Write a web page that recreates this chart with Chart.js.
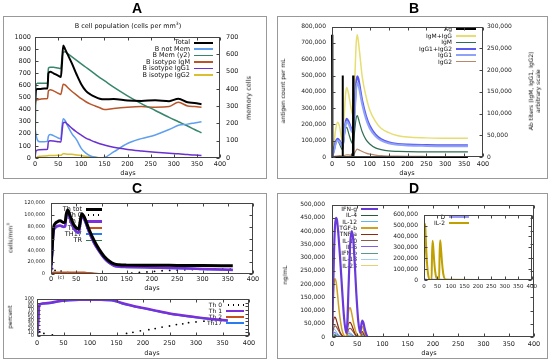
<!DOCTYPE html>
<html>
<head>
<meta charset="utf-8">
<script src="https://cdn.jsdelivr.net/npm/chart.js@4.4.0/dist/chart.umd.min.js"></script>
<style>
  body { margin: 0; width: 550px; height: 360px; background: #fff; position: relative; overflow: hidden; font-family: "DejaVu Sans", sans-serif; color: #111; }
  .frame { position: absolute; border: 1px solid #999; box-sizing: border-box; }
  .txt { position: absolute; white-space: nowrap; line-height: 1; color: #111; will-change: transform; }
  canvas { position: absolute; z-index: 2; }
</style>
</head>
<body>
<script>
// ---- panel A : B cell population ----
const aDays = [0, 2, 5, 10, 20, 27, 29, 33, 40, 50, 56, 58, 61, 65, 70, 80, 90, 100, 110, 120, 130, 140, 150, 170, 200, 230, 260, 290, 310, 330, 345, 360];
const aTotal = [430, 560, 570, 570, 575, 575, 700, 712, 700, 680, 670, 760, 930, 900, 860, 780, 690, 610, 555, 525, 505, 490, 485, 488, 475, 472, 478, 470, 490, 460, 455, 445];
const aNotMem = [250, 200, 150, 135, 135, 140, 180, 195, 185, 165, 160, 250, 325, 310, 270, 200, 150, 80, 40, 17, 8, 3, 5, 50, 120, 160, 190, 235, 270, 280, 290, 300];
const aMem = [0, 420, 432, 432, 432, 432, 520, 525, 525, 520, 518, 570, 612, 615, 605, 585, 565, 545, 525, 505, 485, 465, 447, 410, 360, 315, 275, 235, 210, 185, 165, 146];
const aIgM = [440, 480, 482, 485, 490, 492, 555, 565, 555, 535, 525, 560, 610, 605, 585, 550, 520, 490, 465, 445, 430, 415, 400, 410, 420, 425, 420, 425, 460, 430, 425, 420];
const aIgG1 = [0, 55, 65, 68, 70, 72, 135, 142, 140, 135, 132, 200, 290, 295, 280, 245, 215, 190, 165, 148, 132, 118, 107, 88, 70, 58, 48, 40, 35, 28, 24, 20];
const aIgG2 = [0, 2, 8, 14, 17, 18, 20, 20, 21, 22, 22, 28, 35, 34, 32, 30, 25, 20, 15, 10, 6, 3, 1, 0, 0, 0, 0, 0, 0, 0, 0, 0];
const aNames = ['Total', 'B not Mem', 'B Mem (y2)', 'B isotype IgM', 'B isotype IgG1', 'B isotype IgG2'];

// ---- panel B : antigen and antibodies ----
const bAgDays = [0, 1, 27.5, 28, 29, 55.5, 56, 57, 360];
const bAg = [750000, 0, 0, 500000, 0, 0, 500000, 0, 0];
const bDays = [0, 5, 10, 15, 20, 25, 28, 32, 36, 39, 44, 50, 56, 60, 64, 67, 70, 75, 80, 90, 100, 115, 130, 150, 175, 200, 250, 300, 360];
const bIgMIgG = [0, 30000, 65000, 80000, 70000, 45000, 35000, 90000, 145000, 160000, 145000, 115000, 95000, 170000, 260000, 281000, 265000, 225000, 185000, 140000, 108000, 82000, 66000, 56000, 49000, 46000, 44000, 43000, 43000];
const bIgM = [0, 20000, 36000, 38000, 30000, 20000, 16000, 45000, 66000, 68000, 55000, 38000, 30000, 60000, 90000, 95000, 88000, 72000, 58000, 40000, 30000, 21000, 17000, 14000, 13000, 12500, 12000, 12000, 12000];
const bIgG = [0, 15000, 35000, 42000, 38000, 30000, 26000, 55000, 80000, 88000, 82000, 68000, 60000, 110000, 170000, 186000, 180000, 155000, 130000, 95000, 72000, 52000, 41000, 34000, 30000, 28500, 27500, 27000, 27000];
const bIgG1 = [0, 13000, 31000, 38000, 35000, 27000, 23000, 49000, 73000, 81000, 76000, 63000, 55000, 100000, 156000, 170000, 166000, 144000, 121000, 88000, 66000, 48000, 38000, 31500, 28000, 26500, 25500, 25000, 25000];
const bIgG2 = [0, 1000, 2000, 2500, 3000, 2500, 2000, 3000, 4500, 5000, 4800, 4200, 4000, 9000, 16000, 18000, 17000, 15000, 12500, 9000, 6500, 4500, 3000, 2200, 1800, 1500, 1200, 1000, 1000];
const bNames = ['Ag', 'IgM+IgG', 'IgM', 'IgG1+IgG2', 'IgG1', 'IgG2'];

// ---- panel C (top) : Th cells per mm3 ----
const cDays = [0, 2, 5, 8, 12, 18, 25, 28, 30, 33, 38, 44, 50, 55, 58, 61, 66, 75, 85, 95, 105, 115, 125, 135, 150, 200, 250, 300, 360];
const cTot = [15000, 40000, 78000, 85000, 88000, 90000, 87000, 88000, 100000, 108000, 98000, 85000, 78000, 76000, 90000, 102000, 96000, 76000, 57000, 42000, 30000, 22000, 17000, 15500, 15000, 14800, 14500, 14200, 14000];
const cTh1 = [5000, 30000, 72000, 78000, 81000, 82000, 80000, 81000, 95000, 105000, 92000, 79000, 72000, 70000, 85000, 98000, 92000, 72000, 53000, 39000, 27000, 19000, 14000, 12500, 12000, 11000, 10000, 8500, 7000];
const cTh17 = [5000, 29000, 71000, 77000, 80000, 81000, 79000, 80000, 94000, 104000, 91000, 78000, 71000, 69000, 84000, 97000, 91000, 71000, 52000, 38000, 26500, 18500, 13500, 12000, 11500, 10500, 9500, 8000, 6500];
const cTh2 = [0, 2000, 3000, 3000, 3000, 3000, 3000, 3000, 3000, 3200, 3000, 3000, 3000, 2800, 2800, 3000, 2800, 2000, 1200, 600, 300, 200, 100, 0, 0, 0, 0, 0, 0];
const cTR = [0, 500, 800, 900, 900, 900, 900, 900, 1000, 1000, 1000, 900, 900, 900, 1000, 1000, 1000, 800, 600, 400, 300, 200, 200, 200, 200, 200, 200, 200, 200];
const cTh0Days = [3, 8, 20, 160, 175, 190, 205, 220, 235, 250, 265, 280, 295, 310, 325, 340, 355];
const cTh0 = [9000, 6000, 5000, 1500, 2500, 3500, 4500, 5500, 6000, 6500, 7000, 7500, 8000, 8000, 8500, 8500, 8000];
const cNames = ['Th tot', 'Th 0', 'Th 1', 'Th 2', 'TH17', 'TR'];

// ---- panel C (bottom) : Th percent ----
const pDays = [0, 2, 4, 6, 10, 20, 30, 40, 60, 80, 100, 120, 140, 150, 160, 180, 200, 220, 250, 280, 300, 330, 360];
const pTh1 = [0, 30, 82, 86, 88, 89, 91, 94, 97, 98, 98, 98, 97, 94, 89, 82, 76, 70, 61, 55, 51, 46, 42];
const pTh17 = [0, 29, 81, 85, 87, 88, 90, 93, 96, 97, 97, 97, 96, 93, 88, 81, 75, 69, 60, 54, 50, 45, 41];
const pTh2 = [0, 1, 1, 1, 1, 1, 1, 1, 1, 1, 1, 1, 1, 1, 1, 1, 1, 1, 1, 1, 1, 1, 1];
const pTh0Days = [5, 13, 29, 169, 181, 195, 211, 223, 236, 250, 263, 275, 286, 300, 315, 330, 345];
const pTh0 = [12, 7, 3, 7, 10, 14, 17, 20, 24, 27, 31, 33, 36, 38, 40, 43, 46];
const pNames = ['Th 0', 'Th 1', 'Th 2', 'Th17'];

// ---- panel D : cytokines ----
const dDays = [0, 2, 4, 6, 8, 10, 13, 16, 20, 24, 28, 30, 33, 36, 39, 42, 45, 48, 52, 56, 58, 60, 62, 65, 68, 72, 360];
const dIFNg = [0, 150000, 320000, 420000, 450000, 440000, 380000, 300000, 180000, 70000, 15000, 40000, 200000, 350000, 400000, 370000, 280000, 170000, 60000, 15000, 45000, 62000, 55000, 30000, 10000, 0, 0];
const dIL4 = [0, 2000, 4000, 5000, 5000, 4000, 3000, 2000, 800, 200, 0, 1500, 3000, 3500, 3000, 2000, 1000, 400, 100, 0, 1000, 1500, 1200, 600, 200, 0, 0];
const dIL12 = [0, 22000, 30000, 28000, 22000, 16000, 9000, 4000, 1000, 0, 0, 12000, 20000, 17000, 11000, 6000, 2500, 800, 0, 0, 6000, 8000, 5000, 2000, 500, 0, 0];
const dTGFb = [0, 120000, 200000, 220000, 210000, 180000, 120000, 70000, 25000, 5000, 0, 30000, 100000, 110000, 90000, 60000, 35000, 15000, 5000, 0, 35000, 40000, 30000, 12000, 3000, 0, 0];
const dTNFa = [0, 50000, 72000, 75000, 68000, 55000, 35000, 18000, 6000, 1000, 0, 25000, 52000, 55000, 45000, 30000, 15000, 6000, 1000, 0, 15000, 20000, 15000, 6000, 1000, 0, 0];
const dIL10 = [0, 25000, 38000, 42000, 40000, 34000, 24000, 14000, 5000, 1000, 0, 12000, 30000, 33000, 28000, 20000, 11000, 5000, 1000, 0, 8000, 12000, 10000, 5000, 1000, 0, 0];
const dIL6 = [0, 12000, 18000, 17000, 14000, 10000, 6000, 3000, 800, 0, 0, 8000, 14000, 12000, 8000, 4000, 1500, 500, 0, 0, 4000, 6000, 4000, 1500, 300, 0, 0];
const dIFNb = [0, 6000, 9000, 10000, 9000, 7000, 4500, 2500, 800, 200, 0, 4000, 7000, 8000, 6000, 4000, 2000, 800, 200, 0, 2500, 3500, 2500, 1000, 300, 0, 0];
const dIL18 = [0, 10000, 15000, 14000, 11000, 8000, 4500, 2000, 500, 0, 0, 6000, 10000, 9000, 6000, 3000, 1200, 400, 0, 0, 3000, 4500, 3000, 1200, 300, 0, 0];
const dIL23 = [0, 5000, 9000, 10000, 9000, 7000, 4000, 2000, 600, 100, 0, 3000, 6000, 6000, 4500, 2800, 1300, 500, 100, 0, 2000, 3000, 2200, 900, 200, 0, 0];
const dNames = ['IFN-g', 'IL-4', 'IL-12', 'TGF-b', 'TNF-a', 'IL-10', 'IL-6', 'IFN-b', 'IL-18', 'IL-23'];

// inset of D
const iDays = [0, 2, 4, 6, 9, 12, 16, 20, 28, 30, 32, 35, 38, 42, 48, 56, 58, 60, 63, 67, 72, 80, 360];
const iIL2 = [0, 400000, 515000, 420000, 250000, 130000, 40000, 5000, 0, 250000, 360000, 280000, 170000, 70000, 10000, 0, 250000, 365000, 290000, 160000, 50000, 5000, 0];
const iD = [0, 3000, 5000, 4000, 2000, 1000, 500, 0, 0, 3000, 4000, 3000, 1500, 500, 0, 0, 3000, 4000, 3000, 1500, 500, 0, 0];
const iNames = ['D', 'IL-2'];

const FONT = '"DejaVu Sans", sans-serif';
Chart.defaults.font.family = FONT;
Chart.defaults.color = '#222';

const fmtComma = v => v.toLocaleString('en-US');
const fmtPlain = v => String(v);

// gnuplot-like box with inward ticks
const framePlugin = {
  id: 'frame',
  afterDatasetsDraw(c) {
    const ctx = c.ctx, a = c.chartArea;
    const L = Math.round(a.left) + 0.5, R = Math.round(a.right) - 0.5;
    const T = Math.round(a.top) + 0.5, B = Math.round(a.bottom) - 0.5;
    ctx.save();
    ctx.strokeStyle = '#444';
    ctx.lineWidth = 1;
    ctx.strokeRect(L, T, R - L, B - T);
    ctx.beginPath();
    const sx = c.scales.x;
    sx.ticks.forEach(t => {
      const p = Math.round(sx.getPixelForValue(t.value)) + 0.5;
      ctx.moveTo(p, B); ctx.lineTo(p, B - 3);
      ctx.moveTo(p, T); ctx.lineTo(p, T + 3);
    });
    const sy = c.scales.y;
    sy.ticks.forEach(t => {
      const p = Math.round(sy.getPixelForValue(t.value)) + 0.5;
      ctx.moveTo(L, p); ctx.lineTo(L + 3, p);
      if (!c.scales.y2) { ctx.moveTo(R, p); ctx.lineTo(R - 3, p); }
    });
    if (c.scales.y2) {
      const s2 = c.scales.y2;
      s2.ticks.forEach(t => {
        const p = Math.round(s2.getPixelForValue(t.value)) + 0.5;
        ctx.moveTo(R, p); ctx.lineTo(R - 3, p);
      });
    }
    ctx.stroke();
    ctx.restore();
  }
};

function pts(xs, ys) {
  return xs.map((x, i) => ({ x: x, y: ys[i] }));
}
function series(xs, ys, color, width, axis) {
  return { data: pts(xs, ys), borderColor: color, borderWidth: width, pointRadius: 0,
    cubicInterpolationMode: 'monotone', fill: false, yAxisID: axis || 'y' };
}
function dots(xs, ys, color) {
  return { data: pts(xs, ys), showLine: false, pointRadius: 0.9, pointBackgroundColor: color,
    pointBorderWidth: 0, yAxisID: 'y' };
}

// box = canvas [left, top, width, height]; area = plot [left, top, right, bottom], page px
function makeChart(box, area, o) {
  const cv = document.createElement('canvas');
  cv.width = box[2];
  cv.height = box[3];
  cv.style.left = box[0] + 'px';
  cv.style.top = box[1] + 'px';
  document.body.appendChild(cv);
  const leftW = area[0] - box[0];
  const rightW = box[0] + box[2] - area[2];
  const topP = area[1] - box[1];
  const botH = box[1] + box[3] - area[3];
  const noGrid = { display: false, drawTicks: false };
  const scales = {
    x: { type: 'linear', min: 0, max: 400, afterFit: s => { s.height = botH; },
      ticks: { stepSize: 50, autoSkip: false, maxRotation: 0, font: { size: o.xFont }, padding: o.xPad },
      grid: noGrid, border: { display: false } },
    y: { type: 'linear', position: 'left', min: 0, max: o.yMax, afterFit: s => { s.width = leftW; },
      ticks: { stepSize: o.yStep, autoSkip: false, font: { size: o.yFont }, padding: o.yPad, callback: o.fmt || fmtComma },
      grid: noGrid, border: { display: false } }
  };
  if (o.y2Max) {
    scales.y2 = { type: 'linear', position: 'right', min: 0, max: o.y2Max, afterFit: s => { s.width = rightW; },
      ticks: { stepSize: o.y2Step, autoSkip: false, font: { size: o.yFont }, padding: o.y2Pad, callback: o.fmt || fmtComma },
      grid: noGrid, border: { display: false } };
  }
  return new Chart(cv, {
    type: 'line',
    data: { datasets: o.datasets },
    options: {
      responsive: false,
      animation: false,
      layout: { padding: { top: topP, left: 0, bottom: 0, right: o.y2Max ? 0 : rightW } },
      plugins: { legend: { display: false }, tooltip: { enabled: false } },
      scales: scales
    },
    plugins: [framePlugin]
  });
}

function text(str, cx, cy, size, extra) {
  const d = document.createElement('div');
  d.className = 'txt';
  d.textContent = str;
  d.style.fontSize = size + 'px';
  d.style.left = cx + 'px';
  d.style.top = cy + 'px';
  d.style.transform = 'translate(-50%,-50%)' + (extra && extra.rot ? ' rotate(' + extra.rot + 'deg)' : '');
  if (extra && extra.bold) { d.style.fontWeight = 'bold'; d.style.fontFamily = '"Liberation Sans", Arial, sans-serif'; d.style.color = '#000'; }
  if (extra && extra.html) d.innerHTML = str;
  document.body.appendChild(d);
  return d;
}

// key: text right-aligned, then a line sample (gnuplot style)
function legend(names, styles, xRight, y0, dy, lineLen, size) {
  names.forEach((n, i) => {
    const y = y0 + i * dy;
    const t = document.createElement('div');
    t.className = 'txt';
    t.textContent = n;
    t.style.fontSize = size + 'px';
    t.style.width = '120px';
    t.style.textAlign = 'right';
    t.style.left = (xRight - 120) + 'px';
    t.style.top = (y - size / 2) + 'px';
    document.body.appendChild(t);
    const s = styles[i];
    const l = document.createElement('div');
    l.style.position = 'absolute';
    l.style.left = (xRight + 4) + 'px';
    l.style.width = lineLen + 'px';
    if (s.dots) {
      l.style.top = (y - 1) + 'px';
      l.style.height = '2px';
      l.style.background = 'radial-gradient(circle, ' + s.color + ' 0.8px, transparent 1.1px) 0 0 / 5px 2px repeat-x';
    } else {
      l.style.top = (y - s.w / 2) + 'px';
      l.style.height = s.w + 'px';
      l.style.background = s.color;
    }
    document.body.appendChild(l);
  });
}

function panelFrame(l, t, r, b) {
  const d = document.createElement('div');
  d.className = 'frame';
  d.style.left = l + 'px'; d.style.top = t + 'px';
  d.style.width = (r - l) + 'px'; d.style.height = (b - t) + 'px';
  document.body.appendChild(d);
}

// ---------- frames & letters ----------
panelFrame(3, 16, 267, 179);
panelFrame(277, 16, 548, 179);
panelFrame(3, 193, 267, 359);
panelFrame(277, 193, 548, 359);
text('A', 136.5, 7.5, 14, { bold: true });
text('B', 414, 7.5, 14, { bold: true });
text('C', 137, 188, 14, { bold: true });
text('D', 414, 188, 14, { bold: true });

// ---------- panel A ----------
const aCol = ['#000000', '#5f9ff0', '#35866a', '#b8552a', '#6a30d0', '#d8c030'];
const aW = [2, 1.5, 1.5, 1.5, 1.5, 1.5];
legend(aNames, aCol.map((c, i) => ({ color: c, w: aW[i] })), 190, 42.7, 6.5, 19, 6.5);
makeChart([4, 17, 262, 161], [35, 37, 220, 158], {
  xFont: 6.5, xPad: 2, yFont: 6.5, yPad: 4, y2Pad: 6,
  yMax: 1000, yStep: 100, y2Max: 700, y2Step: 100, fmt: fmtPlain,
  datasets: [
    series(aDays, aTotal, aCol[0], aW[0]),
    series(aDays, aIgG1, aCol[4], aW[4]),
    series(aDays, aNotMem, aCol[1], aW[1]),
    series(aDays, aMem, aCol[2], aW[2], 'y2'),
    series(aDays, aIgM, aCol[3], aW[3]),
    series(aDays, aIgG2, aCol[5], aW[5])
  ]
});
text('B cell population (cells per mm<sup style="font-size:4.5px">3</sup>)', 128, 26, 6.5, { html: true });
text('days', 128, 173, 6.5);
text('memory cells', 249, 98, 6.5, { rot: -90 });

// ---------- panel B ----------
const bCol = ['#000000', '#e6de72', '#2f6e52', '#5a5af0', '#8fa2f8', '#b8886a'];
const bW = [2, 1.5, 1.2, 2, 2, 1.2];
legend(bNames, bCol.map((c, i) => ({ color: c, w: bW[i] })), 451.5, 29.3, 6.5, 20, 6);
const agSet = series(bAgDays, bAg, bCol[0], bW[0]);
agSet.cubicInterpolationMode = 'default';
agSet.tension = 0;
agSet.clip = false;
makeChart([278, 17, 269, 161], [332, 25, 483, 157], {
  xFont: 6.5, xPad: 3, yFont: 6, yPad: 6, y2Pad: 4,
  yMax: 800000, yStep: 100000, y2Max: 300000, y2Step: 50000,
  datasets: [
    agSet,
    series(bDays, bIgG1, bCol[4], bW[4], 'y2'),
    series(bDays, bIgG, bCol[3], bW[3], 'y2'),
    series(bDays, bIgM, bCol[2], bW[2], 'y2'),
    series(bDays, bIgMIgG, bCol[1], bW[1], 'y2'),
    series(bDays, bIgG2, bCol[5], bW[5], 'y2')
  ]
});
text('antigen count per mL', 283, 91, 6, { rot: -90 });
text('Ab titers (IgM, IgG1, IgG2)', 530.5, 91, 6, { rot: -90 });
text('arbitrary scale', 538, 91, 6, { rot: -90 });
text('days', 407, 173, 6.5);

// ---------- panel C top ----------
const cCol = ['#000000', '#000000', '#7a2fd8', '#c8501a', '#2a7af0', '#2f7a4a'];
const cW = [3, 1, 2.5, 1.5, 2, 1.5];
legend(cNames, cCol.map((c, i) => ({ color: c, w: cW[i], dots: i === 1 })), 82, 209, 6.3, 16, 6.5);
makeChart([4, 194, 262, 98], [51, 203, 253, 274], {
  xFont: 6.5, xPad: 1.5, yFont: 5, yPad: 6,
  yMax: 120000, yStep: 20000,
  datasets: [
    series(cDays, cTot, cCol[0], cW[0]),
    series(cDays, cTh1, cCol[2], cW[2]),
    series(cDays, cTh17, cCol[4], cW[4]),
    series(cDays, cTh2, cCol[3], cW[3]),
    series(cDays, cTR, cCol[5], cW[5]),
    dots(cTh0Days, cTh0, '#000')
  ]
});
text('cells/mm<sup style="font-size:4px">3</sup>', 10, 238, 6, { rot: -90, html: true });
text('(c)', 61, 277, 5);
text('days', 152, 288, 6.5);

// ---------- panel C bottom ----------
const pCol = ['#000000', '#7a2fd8', '#c8501a', '#2a7af0'];
const pW = [1, 2.5, 1.5, 2];
legend(pNames, pCol.map((c, i) => ({ color: c, w: pW[i], dots: i === 0 })), 221.5, 305, 6.1, 18, 6);
makeChart([4, 293, 262, 64], [37, 299, 249, 336], {
  xFont: 6.5, xPad: 3, yFont: 5, yPad: 3,
  yMax: 100, yStep: 10, fmt: fmtPlain,
  datasets: [
    series(pDays, pTh1, pCol[1], pW[1]),
    series(pDays, pTh17, pCol[3], pW[3]),
    series(pDays, pTh2, pCol[2], pW[2]),
    dots(pTh0Days, pTh0, '#000')
  ]
});
text('percent', 10, 317, 6, { rot: -90 });
text('days', 152, 353, 6.5);

// ---------- panel D ----------
const dCol = ['#6a3ad8', '#2a5a3a', '#60b8e8', '#d0a020', '#8a2a10', '#8a5a4a', '#8060e0', '#5a9a8a', '#a0d0f0', '#e8d070'];
const dW = [2.2, 1.2, 1, 1.5, 1.2, 1.2, 1, 1, 1, 1];
legend(dNames, dCol.map((c, i) => ({ color: c, w: dW[i] })), 357, 209, 6.3, 17, 6);
makeChart([278, 194, 269, 163], [332, 203, 534, 337], {
  xFont: 6.5, xPad: 3, yFont: 6, yPad: 7,
  yMax: 500000, yStep: 50000,
  datasets: [
    series(dDays, dIFNg, dCol[0], dW[0]),
    series(dDays, dTGFb, dCol[3], dW[3]),
    series(dDays, dTNFa, dCol[4], dW[4]),
    series(dDays, dIL10, dCol[5], dW[5]),
    series(dDays, dIL12, dCol[2], dW[2]),
    series(dDays, dIL6, dCol[6], dW[6]),
    series(dDays, dIL18, dCol[8], dW[8]),
    series(dDays, dIFNb, dCol[7], dW[7]),
    series(dDays, dIL23, dCol[9], dW[9]),
    series(dDays, dIL4, dCol[1], dW[1])
  ]
});
text('ng/mL', 285, 275, 6, { rot: -90 });
text('days', 429, 353, 6.5);

// inset
const iCol = ['#9a9af8', '#c0a000'];
legend(iNames, iCol.map(c => ({ color: c, w: 2 })), 445, 216.7, 6.6, 20, 6);
const insetChart = makeChart([392, 205, 148, 90], [424, 212, 532, 280], {
  xFont: 5.5, xPad: 3, yFont: 6, yPad: 6,
  yMax: 600000, yStep: 100000,
  datasets: [
    series(iDays, iIL2, iCol[1], 2),
    series(iDays, iD, iCol[0], 2)
  ]
});
insetChart.canvas.style.zIndex = 3;
</script>
</body>
</html>
